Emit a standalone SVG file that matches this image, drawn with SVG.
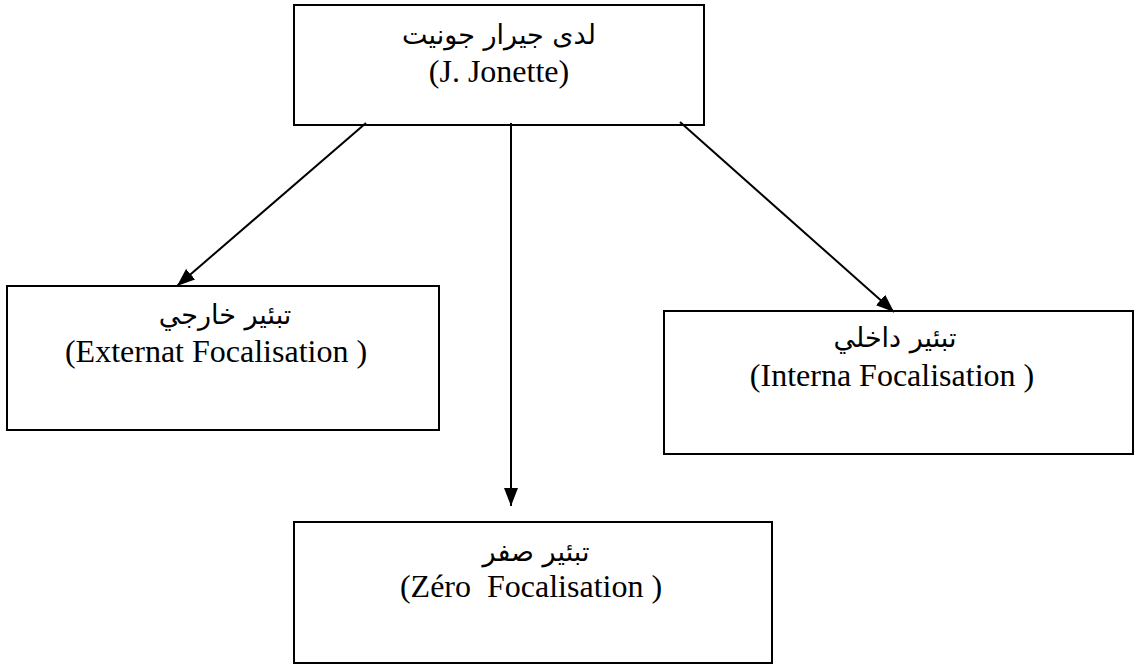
<svg xmlns="http://www.w3.org/2000/svg" width="1135" height="666" viewBox="0 0 1135 666">
<style>
.box{fill:#fff;stroke:#000;stroke-width:2}
.en{font-family:"Liberation Serif","Times New Roman",serif;font-size:32px;fill:#000;text-anchor:middle}
.ar{font-family:"DejaVu Sans","Noto Sans",sans-serif;font-size:27px;fill:#000;text-anchor:middle}
.conn{stroke:#000;stroke-width:2;fill:none}
</style>
<defs>
<marker id="arr" markerWidth="18" markerHeight="14" refX="18" refY="7" orient="auto" markerUnits="userSpaceOnUse">
<path d="M0,0 L18,7 L0,14 Z" fill="#000"/>
</marker>
</defs>
<rect width="1135" height="666" fill="#fff"/>
<g id="node-top">
<rect class="box" x="294" y="5" width="410" height="120"/>
<text class="ar" x="499" y="44" direction="rtl">لدى جيرار جونيت</text>
<text class="en" x="499" y="82">(J. Jonette)</text>
</g>
<g id="node-external">
<rect class="box" x="7" y="286" width="432" height="144"/>
<text class="ar" x="225" y="324" direction="rtl">تبئير خارجي</text>
<text class="en" x="216" y="362">(Externat Focalisation )</text>
</g>
<g id="node-internal">
<rect class="box" x="664" y="311" width="469" height="143"/>
<text class="ar" x="895" y="347" direction="rtl">تبئير داخلي</text>
<text class="en" x="892" y="386">(Interna Focalisation )</text>
</g>
<g id="node-zero">
<rect class="box" x="294" y="522" width="478" height="141"/>
<text class="ar" x="536" y="561" direction="rtl">تبئير صفر</text>
<text class="en" x="531" y="597" xml:space="preserve">(Zéro  Focalisation )</text>
</g>
<g id="connectors">
<line class="conn" x1="366" y1="123" x2="177" y2="286" marker-end="url(#arr)"/>
<line class="conn" x1="511" y1="123" x2="511" y2="506" marker-end="url(#arr)"/>
<line class="conn" x1="680" y1="122" x2="894" y2="312" marker-end="url(#arr)"/>
</g>
</svg>
